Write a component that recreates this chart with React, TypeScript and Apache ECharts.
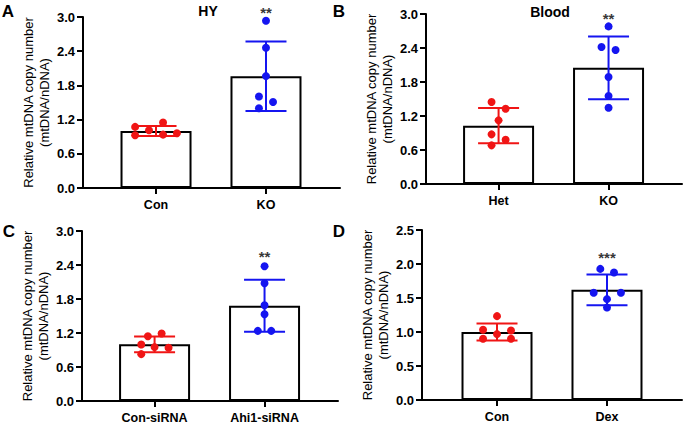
import React, { useEffect, useRef } from "react";
import * as echarts from "echarts";

const FONT = "'Liberation Sans', Arial, Helvetica, sans-serif";
const RED = "#f01515";
const BLUE = "#1515f0";

// Panel A (HY)
const catsA = ["Con", "KO"];
const meanA = [1.0, 1.96];
const sdA = [0.088, 0.61];
const ptsA0 = [[-0.19, 1.072], [-0.19, 0.926], [-0.064, 1.014], [0.064, 1.148], [0.064, 0.937], [0.19, 0.961]];
const ptsA1 = [[0, 2.935], [0, 2.46], [0, 1.963], [-0.064, 1.605], [0.064, 1.51], [-0.064, 1.4]];

// Panel B (Blood)
const catsB = ["Het", "KO"];
const meanB = [1.03, 2.05];
const sdB = [0.31, 0.555];
const ptsB0 = [[-0.064, 1.447], [0.064, 1.329], [0, 1.123], [-0.064, 0.876], [0.064, 0.782], [-0.064, 0.682]];
const ptsB1 = [[0, 2.781], [-0.064, 2.417], [0.064, 2.364], [0, 1.888], [0, 1.553], [0, 1.347]];

// Panel C
const catsC = ["Con-siRNA", "Ahi1-siRNA"];
const meanC = [1.0, 1.68];
const sdC = [0.138, 0.458];
const ptsC0 = [[-0.121, 0.998], [-0.121, 0.827], [-0.061, 1.144], [0, 0.951], [0.064, 1.192], [0.127, 0.939]];
const ptsC1 = [[0, 2.377], [0, 2.077], [0, 1.69], [0, 1.532], [-0.061, 1.238], [0.061, 1.238]];

// Panel D
const catsD = ["Con", "Dex"];
const meanD = [1.0, 1.62];
const sdD = [0.125, 0.225];
const ptsD0 = [[0, 1.233], [-0.127, 1.032], [0, 0.969], [0.127, 1.022], [-0.127, 0.9], [0.127, 0.9]];
const ptsD1 = [[-0.061, 1.928], [0.064, 1.874], [-0.121, 1.576], [0.127, 1.576], [0, 1.483], [0, 1.36]];

const yMaxes = [3.0, 3.0, 3.0, 2.5];
const yIntervals = [0.6, 0.6, 0.6, 0.5];
const starTexts = ["**", "**", "**", "***"];
const starValues = [3.08, 2.92, 2.55, 2.09];
const panelTitles = ["HY", "Blood", "", ""];
const panelLetters = ["A", "B", "C", "D"];
const yAxisTitle = "Relative mtDNA copy number\n(mtDNA/nDNA)";

const panelData = [
  { cats: catsA, mean: meanA, sd: sdA, p0: ptsA0, p1: ptsA1 },
  { cats: catsB, mean: meanB, sd: sdB, p0: ptsB0, p1: ptsB1 },
  { cats: catsC, mean: meanC, sd: sdC, p0: ptsC0, p1: ptsC1 },
  { cats: catsD, mean: meanD, sd: sdD, p0: ptsD0, p1: ptsD1 },
];

// layout (positions only)
const layouts = [
  { left: 83, top: 17, width: 257, height: 171, xMin: -0.664, xMax: 1.673, titleX: 208, titleY: 11, letterX: 8, letterY: 11 },
  { left: 426, top: 14, width: 256, height: 170, xMin: -0.66, xMax: 1.668, titleX: 550, titleY: 12, letterX: 339, letterY: 11 },
  { left: 82, top: 231, width: 256, height: 170, xMin: -0.66, xMax: 1.668, titleX: 0, titleY: 0, letterX: 9, letterY: 231 },
  { left: 422, top: 230, width: 260, height: 170, xMin: -0.682, xMax: 1.682, titleX: 0, titleY: 0, letterX: 339, letterY: 231 },
];

function buildOption() {
  const grid: any[] = [];
  const xAxis: any[] = [];
  const yAxis: any[] = [];
  const series: any[] = [];
  const graphic: any[] = [];

  panelData.forEach((pd, i) => {
    const L = layouts[i];
    grid.push({ left: L.left, top: L.top, width: L.width, height: L.height, containLabel: false });
    xAxis.push({
      gridIndex: i,
      type: "value",
      min: L.xMin,
      max: L.xMax,
      splitLine: { show: false },
      axisLine: { show: true, onZero: false, lineStyle: { color: "#000", width: 2 } },
      axisTick: { show: true, customValues: [0, 1], length: 6, lineStyle: { color: "#000", width: 2 } },
      axisLabel: {
        show: true,
        customValues: [0, 1],
        margin: 10,
        formatter: (v: number) => pd.cats[Math.round(v)] ?? "",
        color: "#000",
        fontFamily: FONT,
        fontSize: 12.5,
        fontWeight: "bold",
      },
    });
    yAxis.push({
      gridIndex: i,
      type: "value",
      min: 0,
      max: yMaxes[i],
      interval: yIntervals[i],
      splitLine: { show: false },
      axisLine: { show: true, onZero: false, lineStyle: { color: "#000", width: 2 } },
      axisTick: { show: true, length: 6, lineStyle: { color: "#000", width: 2 } },
      axisLabel: {
        margin: 8,
        formatter: (v: number) => v.toFixed(1),
        color: "#000",
        fontFamily: FONT,
        fontSize: 13,
        fontWeight: "bold",
      },
      name: yAxisTitle,
      nameLocation: "middle",
      nameGap: 31,
      nameTextStyle: { color: "#000", fontFamily: FONT, fontSize: 13, lineHeight: 16 },
    });

    series.push({
      type: "bar",
      xAxisIndex: i,
      yAxisIndex: i,
      barWidth: 71,
      z: 1,
      itemStyle: { color: "#fff", borderColor: "#000", borderWidth: 2 },
      data: pd.mean.map((m, k) => [k, m]),
    });

    series.push({
      type: "custom",
      xAxisIndex: i,
      yAxisIndex: i,
      z: 3,
      clip: false,
      data: pd.mean.map((m, k) => [k, m, pd.sd[k]]),
      renderItem: (params: any, api: any) => {
        const x = api.value(0);
        const m = api.value(1);
        const s = api.value(2);
        const top = api.coord([x, m + s]);
        const bot = api.coord([x, m - s]);
        const color = params.dataIndex === 0 ? RED : BLUE;
        const half = 20.5;
        const style = { stroke: color, lineWidth: 2 };
        return {
          type: "group",
          children: [
            { type: "line", shape: { x1: top[0], y1: top[1], x2: bot[0], y2: bot[1] }, style },
            { type: "line", shape: { x1: top[0] - half, y1: top[1], x2: top[0] + half, y2: top[1] }, style },
            { type: "line", shape: { x1: bot[0] - half, y1: bot[1], x2: bot[0] + half, y2: bot[1] }, style },
          ],
        };
      },
    });

    series.push({
      type: "scatter",
      xAxisIndex: i,
      yAxisIndex: i,
      z: 4,
      clip: false,
      symbolSize: 8,
      itemStyle: { color: RED, opacity: 1 },
      data: pd.p0.map((p) => [0 + p[0], p[1]]),
    });
    series.push({
      type: "scatter",
      xAxisIndex: i,
      yAxisIndex: i,
      z: 4,
      clip: false,
      symbolSize: 8,
      itemStyle: { color: BLUE, opacity: 1 },
      data: pd.p1.map((p) => [1 + p[0], p[1]]),
    });

    series.push({
      type: "scatter",
      xAxisIndex: i,
      yAxisIndex: i,
      z: 5,
      clip: false,
      symbolSize: 2,
      itemStyle: { color: "rgba(0,0,0,0)" },
      label: {
        show: true,
        position: "inside",
        formatter: starTexts[i],
        color: "#000",
        fontFamily: FONT,
        fontSize: 15,
        fontWeight: "bold",
      },
      data: [[1, starValues[i]]],
    });

    if (panelTitles[i]) {
      graphic.push({
        type: "text",
        x: L.titleX,
        y: L.titleY,
        style: {
          text: panelTitles[i],
          fill: "#000",
          font: `bold 14px ${FONT}`,
          textAlign: "center",
          textVerticalAlign: "middle",
        },
      });
    }
    graphic.push({
      type: "text",
      x: L.letterX,
      y: L.letterY,
      style: {
        text: panelLetters[i],
        fill: "#000",
        font: `bold 17px ${FONT}`,
        textAlign: "center",
        textVerticalAlign: "middle",
      },
    });
  });

  return { animation: false, backgroundColor: "#fff", grid, xAxis, yAxis, series, graphic };
}

export default function App() {
  const ref = useRef<HTMLDivElement>(null);
  useEffect(() => {
    if (!ref.current) return;
    const chart = echarts.init(ref.current, undefined, { renderer: "svg" });
    chart.setOption(buildOption() as any);
    return () => chart.dispose();
  }, []);
  return (
    <div
      ref={ref}
      style={{ position: "fixed", left: 0, top: 0, width: 685, height: 425, background: "#fff" }}
    />
  );
}
